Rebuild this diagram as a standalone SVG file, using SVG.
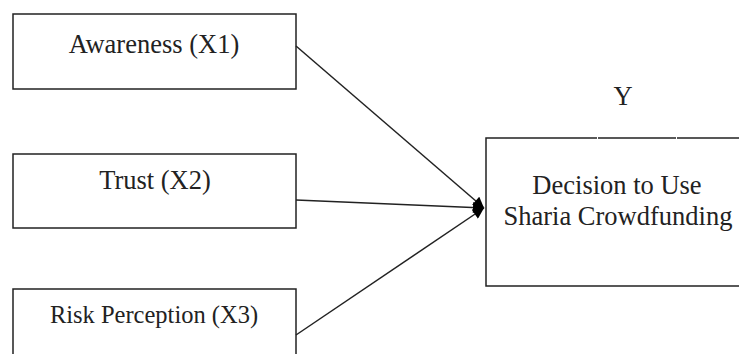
<svg xmlns="http://www.w3.org/2000/svg" width="739" height="354" viewBox="0 0 739 354">
<style>
.box{fill:#fff;stroke:#222;stroke-width:1.5}
.t{font-family:"Liberation Serif","Times New Roman",serif;font-size:26.5px;fill:#222;text-anchor:middle}
.c{stroke:#222;stroke-width:1.5;fill:none;marker-end:url(#ah)}
</style>
<defs>
<marker id="ah" viewBox="0 0 10 10" refX="10" refY="5" markerWidth="12" markerHeight="11" markerUnits="userSpaceOnUse" orient="auto">
<path d="M0,0 L10,5 L0,10 z" fill="#000"/>
</marker>
</defs>
<rect width="739" height="354" fill="#fff"/>
<g id="x1">
<rect class="box" x="13" y="14" width="283" height="75"/>
<text class="t" x="154" y="53">Awareness (X1)</text>
</g>
<g id="x2">
<rect class="box" x="13" y="154" width="283" height="74"/>
<text class="t" x="155" y="189">Trust (X2)</text>
</g>
<g id="x3">
<rect class="box" x="13" y="289" width="283" height="80"/>
<text class="t" x="154" y="323" style="font-size:24.5px">Risk Perception (X3)</text>
</g>
<g id="y">
<path class="box" d="M486,138 L750,138 L750,286 L486,286 Z"/>
<line x1="597" y1="138" x2="598" y2="138" stroke="#fff" stroke-width="2"/>
<line x1="676" y1="138" x2="677" y2="138" stroke="#fff" stroke-width="2"/>
<text class="t" x="623" y="105">Y</text>
<text class="t" x="617" y="194">Decision to Use</text>
<text class="t" x="618" y="225">Sharia Crowdfunding</text>
</g>
<g id="connectors">
<line class="c" x1="296" y1="46" x2="484" y2="208"/>
<line class="c" x1="296" y1="200" x2="484" y2="208"/>
<line class="c" x1="296" y1="335" x2="484" y2="208"/>
</g>
</svg>
